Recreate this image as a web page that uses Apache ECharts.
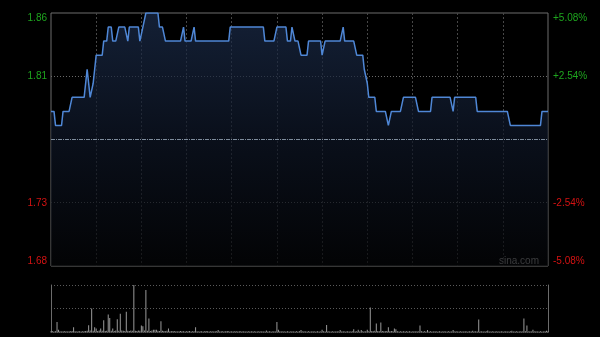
<!DOCTYPE html>
<html><head><meta charset="utf-8">
<script src="https://cdn.jsdelivr.net/npm/echarts@6/dist/echarts.min.js"></script>
<style>html,body{margin:0;padding:0;background:#000}#c{width:600px;height:337px}</style>
</head><body><div id="c"></div>
<script>
// ---- data ----
const prevClose = 1.77;
const leftTickLabels = ['1.68', '1.73', '', '1.81', '1.86'];
const rightTickLabels = ['-5.08%', '-2.54%', '', '+2.54%', '+5.08%'];

const prices = [
1.79,1.79,1.79,1.78,1.78,1.78,1.78,1.78,1.79,1.79,
1.79,1.79,1.79,1.79,1.80,1.80,1.80,1.80,1.80,1.80,
1.80,1.80,1.80,1.80,1.82,1.81,1.80,1.80,1.81,1.82,
1.83,1.83,1.83,1.83,1.83,1.84,1.84,1.84,1.85,1.85,
1.85,1.84,1.84,1.84,1.84,1.85,1.85,1.85,1.85,1.85,
1.85,1.84,1.85,1.85,1.85,1.85,1.85,1.85,1.85,1.84,
1.84,1.85,1.85,1.86,1.86,1.86,1.86,1.86,1.86,1.86,
1.86,1.86,1.85,1.85,1.85,1.85,1.84,1.84,1.84,1.84,
1.84,1.84,1.84,1.84,1.84,1.84,1.84,1.84,1.85,1.84,
1.84,1.84,1.84,1.84,1.84,1.85,1.84,1.84,1.84,1.84,
1.84,1.84,1.84,1.84,1.84,1.84,1.84,1.84,1.84,1.84,
1.84,1.84,1.84,1.84,1.84,1.84,1.84,1.84,1.84,1.85,
1.85,1.85,1.85,1.85,1.85,1.85,1.85,1.85,1.85,1.85,
1.85,1.85,1.85,1.85,1.85,1.85,1.85,1.85,1.85,1.85,
1.85,1.85,1.84,1.84,1.84,1.84,1.84,1.84,1.84,1.84,
1.85,1.85,1.85,1.85,1.85,1.85,1.85,1.84,1.84,1.84,
1.85,1.85,1.84,1.84,1.84,1.84,1.83,1.83,1.83,1.83,
1.83,1.84,1.84,1.84,1.84,1.84,1.84,1.84,1.84,1.84,
1.83,1.83,1.84,1.84,1.84,1.84,1.84,1.84,1.84,1.84,
1.84,1.84,1.84,1.84,1.85,1.84,1.84,1.84,1.84,1.84,
1.84,1.84,1.84,1.83,1.83,1.83,1.83,1.83,1.82,1.82,
1.81,1.80,1.80,1.80,1.80,1.80,1.79,1.79,1.79,1.79,
1.79,1.79,1.79,1.79,1.78,1.78,1.79,1.79,1.79,1.79,
1.79,1.79,1.79,1.79,1.80,1.80,1.80,1.80,1.80,1.80,
1.80,1.80,1.80,1.80,1.79,1.79,1.79,1.79,1.79,1.79,
1.79,1.79,1.79,1.80,1.80,1.80,1.80,1.80,1.80,1.80,
1.80,1.80,1.80,1.80,1.80,1.80,1.80,1.79,1.80,1.80,
1.80,1.80,1.80,1.80,1.80,1.80,1.80,1.80,1.80,1.80,
1.80,1.80,1.80,1.79,1.79,1.79,1.79,1.79,1.79,1.79,
1.79,1.79,1.79,1.79,1.79,1.79,1.79,1.79,1.79,1.79,
1.79,1.79,1.79,1.79,1.79,1.78,1.78,1.78,1.78,1.78,
1.78,1.78,1.78,1.78,1.78,1.78,1.78,1.78,1.78,1.78,
1.78,1.78,1.78,1.78,1.78,1.78,1.79,1.79,1.79,1.79,
1.79
];

const volumes = [
.03,.03,.02,.03,.43,.10,.03,.02,.03,.03,
.03,.02,.03,.03,.04,.20,.03,.02,.03,.03,
.02,.03,.03,.04,.05,.29,.06,1.00,.05,.20,
.15,.04,.06,.15,.05,.50,.04,.05,.74,.60,
.05,.15,.04,.06,.54,.05,.78,.06,.05,.04,
.86,.05,.04,.06,.05,2.00,.05,.04,.06,.05,
.28,.25,.06,1.79,.05,.57,.04,.06,.10,.10,
.10,.05,.04,.46,.05,.04,.03,.05,.15,.03,
.03,.04,.03,.03,.02,.03,.04,.03,.03,.02,
.03,.03,.04,.02,.03,.03,.20,.03,.02,.03,
.03,.02,.03,.04,.03,.02,.03,.03,.02,.03,
.03,.08,.02,.03,.03,.02,.03,.04,.03,.02,
.03,.02,.03,.03,.02,.03,.03,.02,.03,.02,
.02,.03,.02,.03,.02,.03,.02,.02,.03,.02,
.03,.02,.02,.06,.02,.03,.02,.02,.03,.02,
.43,.10,.03,.02,.03,.02,.02,.03,.02,.02,
.03,.02,.02,.03,.02,.03,.08,.02,.03,.02,
.02,.03,.02,.02,.03,.02,.02,.03,.02,.02,
.10,.03,.02,.30,.03,.02,.02,.03,.02,.02,
.03,.02,.08,.02,.03,.02,.02,.03,.02,.02,
.03,.12,.02,.03,.10,.02,.08,.03,.02,.03,
.10,.03,1.04,.04,.03,.05,.36,.04,.03,.40,
.04,.03,.03,.04,.20,.03,.04,.03,.15,.12,
.03,.02,.03,.02,.03,.02,.03,.02,.03,.02,
.02,.03,.02,.03,.02,.28,.03,.02,.03,.02,
.08,.02,.03,.02,.02,.03,.02,.02,.03,.02,
.02,.03,.02,.02,.03,.02,.02,.08,.02,.03,
.02,.02,.03,.02,.02,.03,.02,.02,.03,.02,
.05,.02,.03,.02,.53,.02,.03,.02,.02,.03,
.06,.02,.02,.03,.02,.02,.03,.02,.02,.03,
.02,.02,.03,.02,.02,.03,.05,.02,.02,.03,
.02,.02,.03,.02,.57,.03,.28,.02,.03,.02,
.10,.02,.03,.02,.02,.03,.02,.02,.03,.05,
.03
];

// minute categories: 09:30-12:00, 13:01-16:00
const times = [];
function pad(n){return (n<10?'0':'')+n;}
for (let m = 9*60+30; m <= 12*60; m++) times.push(pad(Math.floor(m/60))+':'+pad(m%60));
for (let m = 13*60+1; m <= 16*60; m++) times.push(pad(Math.floor(m/60))+':'+pad(m%60));

// ---- chart ----
const FONT = '"Liberation Sans", Arial, sans-serif';
const GREEN = '#1ea51e', RED = '#d41212';
const clear = 'rgba(0,0,0,0)';
const chart = echarts.init(document.getElementById('c'), null, {renderer: 'canvas'});
chart.setOption({
  backgroundColor: '#000',
  animation: false,
  grid: [
    {left: 51, right: 52, top: 13, height: 253, show: true, borderColor: '#6c6c6c', borderWidth: 1, backgroundColor: clear},
    {left: 51, right: 52, top: 285, height: 47, show: false}
  ],
  xAxis: [
    {
      type: 'category', gridIndex: 0, data: times, boundaryGap: false,
      axisLine: {show: false}, axisTick: {show: false}, axisLabel: {show: false},
      splitLine: {show: true, interval: function (i) { return i % 30 === 0 && i !== 0 && i !== times.length - 1; },
        lineStyle: {color: '#474747', type: [2, 2], width: 1}}
    },
    {
      type: 'category', gridIndex: 1, data: times, boundaryGap: false,
      axisLine: {show: true, lineStyle: {color: '#555', type: 'dotted'}}, axisTick: {show: false}, axisLabel: {show: false},
      splitLine: {show: false}
    }
  ],
  yAxis: [
    {
      type: 'value', gridIndex: 0, position: 'left', min: 1.68, max: 1.86, interval: 0.045,
      axisLine: {show: false}, axisTick: {show: false},
      axisLabel: {
        formatter: function (v, i) { return leftTickLabels[i] || ''; },
        color: function (v) { return v > prevClose ? GREEN : RED; },
        fontSize: 10, fontFamily: FONT, margin: 4,
        verticalAlignMaxLabel: 'top', verticalAlignMinLabel: 'bottom'
      },
      splitLine: {show: true, lineStyle: {color: [clear, '#6a6a6a', clear, '#6a6a6a', clear], type: [1, 2], width: 1}}
    },
    {
      type: 'value', gridIndex: 0, position: 'right', min: 1.68, max: 1.86, interval: 0.045,
      axisLine: {show: false}, axisTick: {show: false},
      axisLabel: {
        formatter: function (v, i) { return rightTickLabels[i] || ''; },
        color: function (v) { return v > prevClose ? GREEN : RED; },
        fontSize: 10, fontFamily: FONT, margin: 5,
        verticalAlignMaxLabel: 'top', verticalAlignMinLabel: 'bottom'
      },
      splitLine: {show: false}
    },
    {
      type: 'value', gridIndex: 1, position: 'left', min: 0, max: 2, interval: 1,
      axisLine: {show: true, lineStyle: {color: '#6c6c6c'}}, axisTick: {show: false}, axisLabel: {show: false},
      splitLine: {show: true, lineStyle: {color: [clear, '#5a5a5a', '#5a5a5a'], type: [1, 2], width: 1}}
    },
    {
      type: 'value', gridIndex: 1, position: 'right', min: 0, max: 2, interval: 1,
      axisLine: {show: true, lineStyle: {color: '#6c6c6c'}}, axisTick: {show: false}, axisLabel: {show: false},
      splitLine: {show: false}
    }
  ],
  series: [
    {
      type: 'line', xAxisIndex: 0, yAxisIndex: 0, data: prices,
      showSymbol: false, symbol: 'none',
      lineStyle: {color: '#4f87d6', width: 1.5},
      areaStyle: {
        color: new echarts.graphic.LinearGradient(0, 0, 0, 1, [
          {offset: 0, color: '#1c2d4c'},
          {offset: 0.5, color: '#0e1626'},
          {offset: 1, color: '#040507'}
        ])
      },
      markLine: {
        silent: true, symbol: 'none', label: {show: false},
        lineStyle: {color: '#7e8c9c', type: [4, 1, 1, 1], width: 1},
        data: [{yAxis: prevClose}]
      },
      z: 3
    },
    {
      type: 'bar', xAxisIndex: 1, yAxisIndex: 2, data: volumes,
      barWidth: 1, itemStyle: {color: '#9a9a9a'}
    }
  ],
  graphic: [
    {type: 'text', left: 499, top: 256, style: {text: 'sina.com', fill: '#b4b4b4', font: '10px ' + FONT}}
  ]
});
</script>
</body></html>
